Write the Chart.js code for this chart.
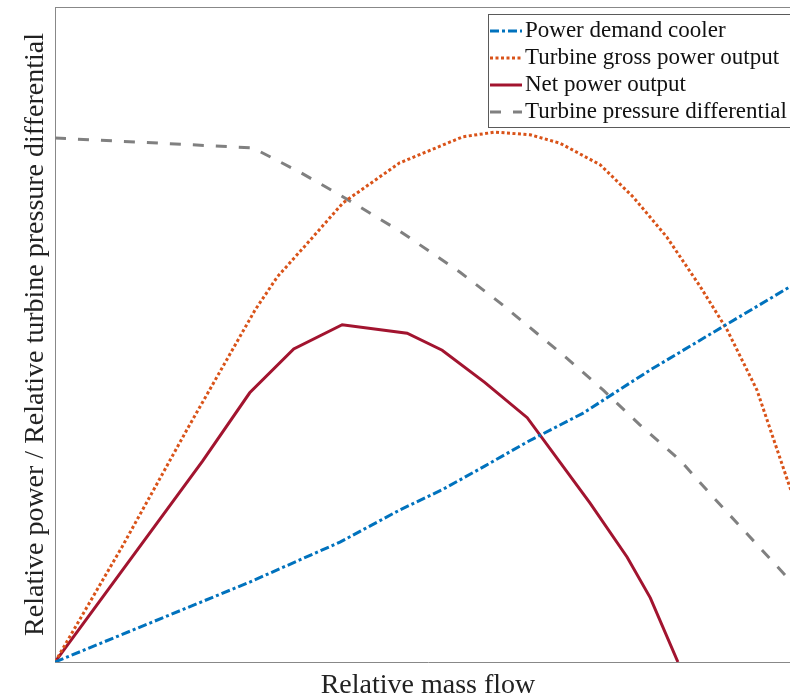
<!DOCTYPE html>
<html><head><meta charset="utf-8">
<script src="https://cdn.jsdelivr.net/npm/chart.js@4"></script>
<style>html,body{margin:0;padding:0;overflow:hidden;background:#fff}
#wrap{position:relative;width:801px;height:700px}</style>
</head><body><div id="wrap"><canvas id="c"></canvas></div>
<script>
// Series labels
const seriesLabels = ["Power demand cooler", "Turbine gross power output", "Net power output", "Turbine pressure differential"];
// Axis titles
const xTitle = "Relative mass flow";
const yTitle = "Relative power / Relative turbine pressure differential";

// Power demand cooler
const coolerX = [0, 0.261, 0.382, 0.462, 0.519, 0.576, 0.633, 0.708, 0.798, 1.0];
const coolerY = [0, 0.122, 0.183, 0.232, 0.263, 0.299, 0.336, 0.380, 0.446, 0.583];
// Turbine gross power output
const grossX = [0, 0.090, 0.178, 0.268, 0.298, 0.342, 0.386, 0.462, 0.547, 0.590, 0.637, 0.677, 0.731, 0.775, 0.820, 0.865, 0.901, 0.941, 0.985, 1.0];
const grossY = [0, 0.176, 0.357, 0.537, 0.588, 0.644, 0.701, 0.762, 0.802, 0.809, 0.805, 0.792, 0.759, 0.710, 0.649, 0.573, 0.507, 0.415, 0.267, 0.217];
// Net power output
const netX = [0, 0.198, 0.261, 0.320, 0.385, 0.472, 0.519, 0.576, 0.633, 0.717, 0.767, 0.798, 0.835];
const netY = [0, 0.307, 0.411, 0.478, 0.515, 0.502, 0.476, 0.427, 0.373, 0.243, 0.160, 0.098, 0];
// Turbine pressure differential
const pressX = [0, 0.265, 0.328, 0.382, 0.462, 0.543, 0.597, 0.686, 0.735, 0.784, 0.838, 0.882, 0.985, 1.0];
const pressY = [0.800, 0.785, 0.748, 0.713, 0.658, 0.595, 0.548, 0.464, 0.415, 0.362, 0.308, 0.252, 0.125, 0.104];

const pts = (xs, ys) => xs.map((x, i) => ({x: x, y: ys[i]}));

const frameTop = {
  id: 'frameTop',
  afterDraw(chart) {
    const ctx = chart.ctx, a = chart.chartArea;
    ctx.save();
    ctx.strokeStyle = '#888'; ctx.lineWidth = 1;
    ctx.beginPath(); ctx.moveTo(a.left, a.top + 0.5); ctx.lineTo(a.right, a.top + 0.5); ctx.stroke();
    ctx.restore();
  }
};

const boxLegend = {
  id: 'boxLegend',
  afterDraw(chart) {
    const ctx = chart.ctx;
    ctx.save();
    const x0 = 488, y0 = 14, x1 = 798, y1 = 127;
    ctx.fillStyle = '#fff'; ctx.fillRect(x0, y0, x1 - x0, y1 - y0);
    ctx.strokeStyle = '#5a5a5a'; ctx.lineWidth = 1;
    ctx.strokeRect(x0 + 0.5, y0 + 0.5, x1 - x0, y1 - y0);
    chart.data.datasets.forEach((ds, i) => {
      const y = 31 + i * 27;
      ctx.beginPath();
      ctx.setLineDash(ds.borderDash || []);
      ctx.strokeStyle = ds.borderColor; ctx.lineWidth = ds.borderWidth;
      ctx.moveTo(490, y); ctx.lineTo(522, y); ctx.stroke();
      ctx.setLineDash([]);
      ctx.fillStyle = '#111'; ctx.font = '23px "Liberation Serif"';
      ctx.textBaseline = 'middle'; ctx.textAlign = 'left';
      ctx.fillText(ds.label, 525, y);
    });
    ctx.restore();
  }
};

new Chart(document.getElementById('c'), {
  type: 'scatter',
  data: {
    datasets: [
      {label: seriesLabels[0], data: pts(coolerX, coolerY), showLine: true, borderColor: '#0072BD', borderWidth: 3, borderDash: [9, 3, 3, 3], pointRadius: 0, tension: 0},
      {label: seriesLabels[1], data: pts(grossX, grossY), showLine: true, borderColor: '#D95319', borderWidth: 3, borderDash: [3, 2.5], pointRadius: 0, tension: 0},
      {label: seriesLabels[2], data: pts(netX, netY), showLine: true, borderColor: '#A2142F', borderWidth: 3, pointRadius: 0, tension: 0},
      {label: seriesLabels[3], data: pts(pressX, pressY), showLine: true, borderColor: '#808080', borderWidth: 3, borderDash: [11, 12], pointRadius: 0, tension: 0}
    ]
  },
  options: {
    responsive: true, maintainAspectRatio: false, animation: false,
    layout: {padding: {top: 7, right: 0, bottom: 0, left: 0}},
    plugins: {legend: {display: false}, tooltip: {enabled: false}},
    scales: {
      x: {
        type: 'linear', min: 0, max: 1,
        ticks: {display: false}, grid: {display: false},
        border: {display: true, color: '#888', width: 1},
        title: {display: true, text: xTitle, color: '#222', font: {family: 'Liberation Serif', size: 28, lineHeight: 1}, padding: {top: 0, bottom: 0}},
        afterFit: (axis) => { axis.height = 38; }
      },
      y: {
        type: 'linear', min: 0, max: 1,
        ticks: {display: false}, grid: {display: false},
        border: {display: true, color: '#888', width: 1},
        title: {display: true, text: yTitle, color: '#222', font: {family: 'Liberation Serif', size: 28, lineHeight: 1.2}, padding: {top: 19, bottom: 0}},
        afterFit: (axis) => { axis.width = 55; }
      }
    }
  },
  plugins: [frameTop, boxLegend]
});
</script>
</body></html>
